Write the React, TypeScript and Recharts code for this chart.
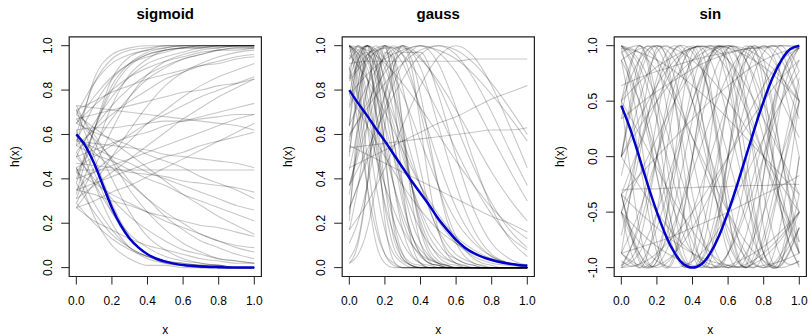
import { LineChart, Line, XAxis, YAxis, ReferenceArea } from 'recharts';

const xGrid = [0, 0.1, 0.2, 0.3, 0.4, 0.5, 0.6, 0.7, 0.8, 0.9, 1];
const fineGrid = [0, 0.05, 0.1, 0.15, 0.2, 0.25, 0.3, 0.35, 0.4, 0.45, 0.5, 0.55, 0.6, 0.65, 0.7, 0.75, 0.8, 0.85, 0.9, 0.95, 1];
const xTicks = [0, 0.2, 0.4, 0.6, 0.8, 1];
const unitTicks = [0, 0.2, 0.4, 0.6, 0.8, 1];
const sinTicks = [-1, -0.5, 0, 0.5, 1];

// highlighted (blue) curves, on fineGrid
const sigmoidBlue = [0.6, 0.55, 0.47, 0.37, 0.27, 0.19, 0.13, 0.09, 0.06, 0.04, 0.027, 0.018, 0.012, 0.008, 0.005, 0.003, 0.002, 0.001, 0.001, 0, 0];
const gaussBlue = [0.8, 0.74, 0.685, 0.625, 0.57, 0.51, 0.45, 0.39, 0.335, 0.28, 0.22, 0.17, 0.125, 0.09, 0.065, 0.047, 0.034, 0.024, 0.017, 0.012, 0.008];
const sinBlue = [0.46, 0.25, 0, -0.26, -0.5, -0.71, -0.87, -0.97, -1, -0.97, -0.87, -0.71, -0.5, -0.26, 0, 0.26, 0.5, 0.71, 0.87, 0.97, 1];

const sigmoidCurves = [
	[0.6, 0.83, 0.94, 0.98, 0.99, 1, 1, 1, 1, 1, 1],
	[0.38, 0.62, 0.82, 0.92, 0.97, 0.99, 1, 1, 1, 1, 1],
	[0.69, 0.83, 0.92, 0.96, 0.98, 0.99, 1, 1, 1, 1, 1],
	[0.29, 0.45, 0.62, 0.77, 0.87, 0.93, 0.96, 0.98, 0.99, 1, 1],
	[0.5, 0.65, 0.77, 0.86, 0.92, 0.95, 0.97, 0.99, 0.99, 1, 1],
	[0.43, 0.55, 0.67, 0.77, 0.85, 0.9, 0.94, 0.96, 0.98, 0.99, 0.99],
	[0.65, 0.73, 0.8, 0.86, 0.9, 0.93, 0.95, 0.97, 0.98, 0.99, 0.99],
	[0.27, 0.38, 0.5, 0.62, 0.73, 0.82, 0.88, 0.92, 0.95, 0.97, 0.98],
	[0.55, 0.62, 0.69, 0.75, 0.8, 0.85, 0.88, 0.91, 0.93, 0.95, 0.96],
	[0.35, 0.43, 0.5, 0.57, 0.65, 0.71, 0.77, 0.82, 0.86, 0.89, 0.92],
	[0.71, 0.75, 0.79, 0.82, 0.85, 0.87, 0.89, 0.91, 0.92, 0.94, 0.95],
	[0.45, 0.5, 0.55, 0.6, 0.65, 0.69, 0.73, 0.77, 0.8, 0.83, 0.86],
	[0.67, 0.69, 0.71, 0.73, 0.75, 0.77, 0.79, 0.8, 0.82, 0.83, 0.85],
	[0.27, 0.3, 0.34, 0.37, 0.41, 0.45, 0.49, 0.53, 0.57, 0.61, 0.65],
	[0.31, 0.37, 0.43, 0.49, 0.55, 0.61, 0.67, 0.72, 0.77, 0.81, 0.85],
	[0.62, 0.63, 0.63, 0.64, 0.65, 0.66, 0.66, 0.67, 0.68, 0.69, 0.69],
	[0.44, 0.44, 0.44, 0.44, 0.44, 0.44, 0.44, 0.44, 0.44, 0.44, 0.44],
	[0.73, 0.72, 0.71, 0.7, 0.69, 0.68, 0.67, 0.66, 0.65, 0.64, 0.62],
	[0.4, 0.62, 0.8, 0.91, 0.96, 0.98, 0.99, 1, 1, 1, 1],
	[0.57, 0.73, 0.85, 0.92, 0.96, 0.98, 0.99, 0.99, 1, 1, 1],
	[0.62, 0.43, 0.25, 0.13, 0.06, 0.03, 0.01, 0.01, 0, 0, 0],
	[0.38, 0.25, 0.15, 0.09, 0.05, 0.03, 0.02, 0.01, 0.01, 0, 0],
	[0.73, 0.57, 0.4, 0.25, 0.14, 0.08, 0.04, 0.02, 0.01, 0, 0],
	[0.5, 0.4, 0.31, 0.23, 0.17, 0.12, 0.08, 0.06, 0.04, 0.03, 0.02],
	[0.29, 0.2, 0.13, 0.08, 0.05, 0.03, 0.02, 0.01, 0.01, 0, 0],
	[0.6, 0.52, 0.45, 0.38, 0.31, 0.25, 0.2, 0.15, 0.12, 0.09, 0.07],
	[0.43, 0.38, 0.33, 0.29, 0.25, 0.21, 0.18, 0.15, 0.12, 0.1, 0.09],
	[0.69, 0.63, 0.57, 0.51, 0.45, 0.39, 0.33, 0.28, 0.23, 0.19, 0.15],
	[0.35, 0.33, 0.3, 0.28, 0.25, 0.23, 0.21, 0.19, 0.18, 0.16, 0.14],
	[0.55, 0.51, 0.48, 0.44, 0.4, 0.37, 0.33, 0.3, 0.27, 0.24, 0.21],
	[0.65, 0.61, 0.58, 0.55, 0.51, 0.48, 0.45, 0.41, 0.38, 0.35, 0.31],
	[0.45, 0.23, 0.1, 0.04, 0.01, 0.01, 0, 0, 0, 0, 0],
	[0.71, 0.6, 0.48, 0.35, 0.25, 0.17, 0.11, 0.07, 0.04, 0.03, 0.02],
	[0.27, 0.21, 0.17, 0.13, 0.1, 0.08, 0.06, 0.04, 0.03, 0.02, 0.02],
	[0.52, 0.38, 0.25, 0.15, 0.09, 0.05, 0.03, 0.02, 0.01, 0, 0],
	[0.67, 0.58, 0.49, 0.39, 0.31, 0.23, 0.17, 0.12, 0.09, 0.06, 0.04],
	[0.33, 0.62, 0.85, 0.95, 0.98, 1, 1, 1, 1, 1, 1],
	[0.52, 0.63, 0.73, 0.81, 0.87, 0.91, 0.94, 0.96, 0.98, 0.98, 0.99],
	[0.4, 0.43, 0.46, 0.49, 0.52, 0.55, 0.58, 0.61, 0.64, 0.67, 0.69],
	[0.57, 0.56, 0.55, 0.54, 0.53, 0.51, 0.5, 0.49, 0.48, 0.47, 0.45],
	[0.47, 0.46, 0.45, 0.43, 0.42, 0.41, 0.39, 0.38, 0.37, 0.36, 0.34],
	[0.58, 0.54, 0.5, 0.47, 0.43, 0.4, 0.37, 0.34, 0.31, 0.28, 0.26],
	[0.35, 0.38, 0.41, 0.44, 0.47, 0.5, 0.52, 0.55, 0.57, 0.59, 0.61],
	[0.5, 0.53, 0.56, 0.59, 0.61, 0.64, 0.66, 0.68, 0.7, 0.72, 0.74],
	[0.55, 0.85, 0.96, 0.99, 1, 1, 1, 1, 1, 1, 1],
	[0.31, 0.52, 0.73, 0.87, 0.94, 0.98, 0.99, 1, 1, 1, 1],
	[0.65, 0.77, 0.86, 0.92, 0.95, 0.97, 0.99, 0.99, 1, 1, 1],
	[0.6, 0.38, 0.2, 0.09, 0.04, 0.02, 0.01, 0, 0, 0, 0],
	[0.45, 0.29, 0.17, 0.09, 0.05, 0.02, 0.01, 0.01, 0, 0, 0],
	[0.71, 0.5, 0.29, 0.14, 0.06, 0.03, 0.01, 0, 0, 0, 0],
];

// narrow bumps are read on fineGrid (21 values), wide ones on xGrid (11 values)
const gaussCurves = [
	[1, 0.9, 0.64, 0.37, 0.17, 0.06, 0.02, 0, 0, 0, 0, 0, 0, 0, 0, 0, 0, 0, 0, 0, 0],
	[1, 0.94, 0.78, 0.57, 0.37, 0.21, 0.11, 0.05, 0.02, 0.01, 0, 0, 0, 0, 0, 0, 0, 0, 0, 0, 0],
	[1, 0.78, 0.37, 0.11, 0.02, 0, 0, 0, 0, 0, 0, 0, 0, 0, 0, 0, 0, 0, 0, 0, 0],
	[1, 0.96, 0.85, 0.7, 0.53, 0.37, 0.24, 0.14, 0.08, 0.04, 0.02, 0.01, 0, 0, 0, 0, 0, 0, 0, 0, 0],
	[0.5, 0.84, 1, 0.84, 0.5, 0.21, 0.06, 0.01, 0, 0, 0, 0, 0, 0, 0, 0, 0, 0, 0, 0, 0],
	[0.73, 0.93, 1, 0.93, 0.73, 0.5, 0.29, 0.15, 0.06, 0.02, 0.01, 0, 0, 0, 0, 0, 0, 0, 0, 0, 0],
	[0.85, 0.96, 1, 0.96, 0.85, 0.7, 0.53, 0.37, 0.24, 0.14, 0.08, 0.04, 0.02, 0.01, 0, 0, 0, 0, 0, 0, 0],
	[0.17, 0.37, 0.64, 0.9, 1, 0.9, 0.64, 0.37, 0.17, 0.06, 0.02, 0, 0, 0, 0, 0, 0, 0, 0, 0, 0],
	[0.44, 0.63, 0.81, 0.95, 1, 0.95, 0.81, 0.63, 0.44, 0.27, 0.16, 0.08, 0.04, 0.02, 0.01, 0, 0, 0, 0, 0, 0],
	[0.11, 0.21, 0.37, 0.57, 0.78, 0.94, 1, 0.94, 0.78, 0.57, 0.37, 0.21, 0.11, 0.05, 0.02, 0.01, 0, 0, 0, 0, 0],
	[0.37, 0.64, 0.9, 1, 0.9, 0.64, 0.37, 0.17, 0.06, 0.02, 0],
	[0.27, 0.48, 0.72, 0.92, 1, 0.92, 0.72, 0.48, 0.27, 0.13, 0.05],
	[0.37, 0.53, 0.7, 0.85, 0.96, 1, 0.96, 0.85, 0.7, 0.53, 0.37],
	[0.59, 0.74, 0.88, 0.97, 1, 0.97, 0.88, 0.74, 0.59, 0.44, 0.3],
	[0.84, 0.94, 0.99, 0.99, 0.94, 0.84, 0.71, 0.57, 0.43, 0.31, 0.21],
	[0.6, 0.72, 0.83, 0.92, 0.98, 1, 0.98, 0.92, 0.83, 0.72, 0.6],
	[0.92, 0.93, 0.93, 0.93, 0.93, 0.93, 0.93, 0.94, 0.94, 0.94, 0.94],
	[0.45, 0.49, 0.53, 0.57, 0.61, 0.65, 0.68, 0.72, 0.76, 0.79, 0.82],
	[0.54, 0.55, 0.56, 0.57, 0.58, 0.59, 0.6, 0.61, 0.62, 0.62, 0.63],
	[0.17, 0.29, 0.45, 0.64, 0.82, 0.95, 1, 0.95, 0.82, 0.64, 0.45],
	[1, 0.9, 0.64, 0.37, 0.17, 0.06, 0.02, 0, 0, 0, 0],
	[0.9, 0.64, 0.37, 0.17, 0.06, 0.02, 0, 0, 0, 0, 0],
	[0.96, 0.85, 0.7, 0.53, 0.37, 0.24, 0.14, 0.08, 0.04, 0.02, 0.01],
	[0.94, 1, 0.94, 0.78, 0.57, 0.37, 0.21, 0.11, 0.05, 0.02, 0.01],
	[0.72, 0.92, 1, 0.92, 0.72, 0.48, 0.27, 0.13, 0.05, 0.02, 0.01],
	[0.64, 0.82, 0.95, 1, 0.95, 0.82, 0.64, 0.45, 0.29, 0.17, 0.09],
	[0.64, 0.9, 1, 0.9, 0.64, 0.37, 0.17, 0.06, 0.02, 0, 0, 0, 0, 0, 0, 0, 0, 0, 0, 0, 0],
	[1, 0.84, 0.5, 0.21, 0.06, 0.01, 0, 0, 0, 0, 0, 0, 0, 0, 0, 0, 0, 0, 0, 0, 0],
	[0.02, 0.11, 0.37, 0.78, 1, 0.78, 0.37, 0.11, 0.02, 0, 0, 0, 0, 0, 0, 0, 0, 0, 0, 0, 0],
	[0.21, 0.68, 1, 0.68, 0.21, 0.03, 0, 0, 0, 0, 0, 0, 0, 0, 0, 0, 0, 0, 0, 0, 0],
	[1, 0.93, 0.73, 0.5, 0.29, 0.15, 0.06, 0.02, 0.01, 0, 0, 0, 0, 0, 0, 0, 0, 0, 0, 0, 0],
	[0.85, 0.96, 1, 0.96, 0.85, 0.7, 0.53, 0.37, 0.24, 0.14, 0.08],
	[0.78, 0.87, 0.94, 0.98, 1, 0.98, 0.94, 0.87, 0.78, 0.68, 0.57],
	[0.9, 1, 0.9, 0.64, 0.37, 0.17, 0.06, 0.02, 0, 0, 0],
	[1, 0.98, 0.92, 0.83, 0.72, 0.6, 0.48, 0.37, 0.27, 0.19, 0.13],
	[0.78, 0.64, 0.5, 0.37, 0.26, 0.17, 0.11, 0.06, 0.04, 0.02, 0.01],
	[0.55, 0.51, 0.47, 0.43, 0.39, 0.35, 0.31, 0.27, 0.23, 0.2, 0.16],
	[0.02, 0.06, 0.17, 0.37, 0.64, 0.9, 1, 0.9, 0.64, 0.37, 0.17, 0.06, 0.02, 0, 0, 0, 0, 0, 0, 0, 0],
	[0.78, 0.94, 1, 0.94, 0.78, 0.57, 0.37, 0.21, 0.11, 0.05, 0.02, 0.01, 0, 0, 0, 0, 0, 0, 0, 0, 0],
	[1, 0.94, 0.78, 0.57, 0.37, 0.21, 0.11, 0.05, 0.02, 0.01, 0],
	[0.86, 1, 0.86, 0.55, 0.27, 0.09, 0.03, 0.01, 0, 0, 0, 0, 0, 0, 0, 0, 0, 0, 0, 0, 0],
	[0.64, 0.94, 0.97, 0.71, 0.37, 0.13, 0.04, 0.01, 0, 0, 0, 0, 0, 0, 0, 0, 0, 0, 0, 0, 0],
	[0.52, 0.78, 0.96, 0.98, 0.82, 0.57, 0.32, 0.15, 0.06, 0.02, 0.01, 0, 0, 0, 0, 0, 0, 0, 0, 0, 0],
	[0.33, 0.56, 0.8, 0.97, 0.99, 0.84, 0.6, 0.37, 0.19, 0.08, 0.03, 0.01, 0, 0, 0, 0, 0, 0, 0, 0, 0],
	[0.94, 1, 0.94, 0.78, 0.57, 0.37, 0.21, 0.11, 0.05, 0.02, 0.01, 0, 0, 0, 0, 0, 0, 0, 0, 0, 0],
	[0.57, 0.78, 0.94, 1, 0.94, 0.78, 0.57, 0.37, 0.21, 0.11, 0.05, 0.02, 0.01, 0, 0, 0, 0, 0, 0, 0, 0],
	[0.37, 0.53, 0.7, 0.85, 0.96, 1, 0.96, 0.85, 0.7, 0.53, 0.37, 0.24, 0.14, 0.08, 0.04, 0.02, 0.01, 0, 0, 0, 0],
	[0.9, 0.64, 0.37, 0.17, 0.06, 0.02, 0, 0, 0, 0, 0, 0, 0, 0, 0, 0, 0, 0, 0, 0, 0],
	[0.97, 1, 0.97, 0.9, 0.78, 0.64, 0.5, 0.37, 0.26, 0.17, 0.11, 0.06, 0.04, 0.02, 0.01, 0, 0, 0, 0, 0, 0],
	[0.24, 0.61, 0.96, 0.91, 0.53, 0.18, 0.04, 0.01, 0, 0, 0, 0, 0, 0, 0, 0, 0, 0, 0, 0, 0],
	[0.04, 0.13, 0.37, 0.71, 0.97, 0.94, 0.64, 0.31, 0.11, 0.03, 0, 0, 0, 0, 0, 0, 0, 0, 0, 0, 0],
	[0.26, 0.5, 0.78, 0.97, 0.97, 0.78, 0.5, 0.26, 0.11, 0.04, 0.01],
];

const sinCurves = [
	[0, 0.87, 0.87, 0, -0.87, -0.87, 0, 0.87, 0.87, 0, -0.87],
	[0.5, 1, 0.5, -0.5, -1, -0.5, 0.5, 1, 0.5, -0.5, -1],
	[1, 0.71, 0, -0.71, -1, -0.71, 0, 0.71, 1, 0.71, 0],
	[-0.71, 0, 0.71, 1, 0.71, 0, -0.71, -1, -0.71, 0, 0.71],
	[0.87, 0.5, 0, -0.5, -0.87, -1, -0.87, -0.5, 0, 0.5, 0.87],
	[-0.87, -0.5, 0, 0.5, 0.87, 1, 0.87, 0.5, 0, -0.5, -0.87],
	[0.5, 0.87, 1, 0.87, 0.5, 0, -0.5, -0.87, -1, -0.87, -0.5],
	[-1, -0.97, -0.87, -0.71, -0.5, -0.26, 0, 0.26, 0.5, 0.71, 0.87],
	[0.87, 0.97, 1, 0.97, 0.87, 0.71, 0.5, 0.26, 0, -0.26, -0.5],
	[0, -0.26, -0.5, -0.71, -0.87, -0.97, -1, -0.97, -0.87, -0.71, -0.5],
	[-0.34, -0.17, 0, 0.17, 0.34, 0.5, 0.64, 0.77, 0.87, 0.94, 0.98],
	[0.98, 0.94, 0.87, 0.77, 0.64, 0.5, 0.34, 0.17, 0, -0.17, -0.34],
	[-0.3, -0.29, -0.29, -0.28, -0.28, -0.27, -0.27, -0.26, -0.26, -0.25, -0.25],
	[-0.87, -0.82, -0.77, -0.71, -0.64, -0.57, -0.5, -0.42, -0.34, -0.26, -0.17],
	[0.64, 0.71, 0.77, 0.82, 0.87, 0.91, 0.94, 0.97, 0.98, 1, 1],
	[0, 0.77, 0.98, 0.5, -0.34, -0.94, -0.87, -0.17, 0.64, 1, 0.64],
	[-0.34, -0.94, -0.87, -0.17, 0.64, 1, 0.64, -0.17, -0.87, -0.94, -0.34],
	[-0.98, -0.64, 0, 0.64, 0.98, 0.87, 0.34, -0.34, -0.87, -0.98, -0.64],
	[0.94, 0.5, -0.17, -0.77, -1, -0.77, -0.17, 0.5, 0.94, 0.94, 0.5],
	[0, 0.34, 0.64, 0.87, 0.98, 0.98, 0.87, 0.64, 0.34, 0, -0.34],
	[-0.87, -0.98, -0.98, -0.87, -0.64, -0.34, 0, 0.34, 0.64, 0.87, 0.98],
	[-0.5, -0.77, -0.94, -1, -0.94, -0.77, -0.5, -0.17, 0.17, 0.5, 0.77],
	[0.34, 1, 0.34, -0.77, -0.87, 0.17, 0.98, 0.5, -0.64, -0.94, 0],
	[0.5, -0.64, -0.94, 0, 0.94, 0.64, -0.5, -0.98, -0.17, 0.87, 0.77],
	[-0.5, -1, -0.5, 0.5, 1, 0.5, -0.5, -1, -0.5, 0.5, 1],
	[-0.34, -0.91, -0.94, -0.42, 0.34, 0.91, 0.94, 0.42, -0.34, -0.91, -0.94],
	[-0.5, -0.87, -1, -0.87, -0.5, 0, 0.5, 0.87, 1, 0.87, 0.5],
	[0.94, 1, 0.87, 0.57, 0.17, -0.26, -0.64, -0.91, -1, -0.91, -0.64],
	[-0.34, 0.09, 0.5, 0.82, 0.98, 0.97, 0.77, 0.42, 0, -0.42, -0.77],
	[1, 0.82, 0.34, -0.26, -0.77, -1, -0.87, -0.42, 0.17, 0.71, 0.98],
	[-0.5, 0.09, 0.64, 0.97, 0.94, 0.57, 0, -0.57, -0.94, -0.97, -0.64],
	[0.5, 0.67, 0.81, 0.91, 0.98, 1, 0.98, 0.91, 0.81, 0.67, 0.5],
	[-0.5, -0.67, -0.81, -0.91, -0.98, -1, -0.98, -0.91, -0.81, -0.67, -0.5],
	[0.34, 0.47, 0.59, 0.69, 0.79, 0.87, 0.93, 0.97, 0.99, 1, 0.98],
	[-1, -0.57, 0.34, 0.97, 0.77, -0.09, -0.87, -0.91, -0.17, 0.71, 0.98],
	[0.5, 0.21, -0.1, -0.41, -0.67, -0.87, -0.98, -0.99, -0.91, -0.74, -0.5],
	[0.98, 0.26, -0.77, -0.91, 0, 0.91, 0.77, -0.26, -0.98, -0.57, 0.5],
	[-0.17, 0.5, 0.94, 0.94, 0.5, -0.17, -0.77, -1, -0.77, -0.17, 0.5],
	[-0.98, -0.77, 0, 0.77, 0.98, 0.5, -0.34, -0.94, -0.87, -0.17, 0.64],
	[-0.87, -1, -0.9, -0.59, -0.14, 0.34, 0.74, 0.97, 0.96, 0.74, 0.34],
	[0.87, 0, -0.87, -0.87, 0, 0.87, 0.87, 0, -0.87, -0.87, 0],
	[0, 0.71, 1, 0.71, 0, -0.71, -1, -0.71, 0, 0.71, 1],
	[1, 0.87, 0.5, 0, -0.5, -0.87, -1, -0.87, -0.5, 0, 0.5],
	[-1, -0.87, -0.5, 0, 0.5, 0.87, 1, 0.87, 0.5, 0, -0.5],
	[1, 0.94, 0.77, 0.5, 0.17, -0.17, -0.5, -0.77, -0.94, -1, -0.94],
	[-0.5, -0.17, 0.17, 0.5, 0.77, 0.94, 1, 0.94, 0.77, 0.5, 0.17],
	[1, 0.64, -0.17, -0.87, -0.94, -0.34, 0.5, 0.98, 0.77, 0, -0.77],
	[-0.34, -0.87, -0.98, -0.64, 0, 0.64, 0.98, 0.87, 0.34, -0.34, -0.87],
	[0, 0.26, 0.5, 0.71, 0.87, 0.97, 1, 0.97, 0.87, 0.71, 0.5],
	[-0.34, -0.5, -0.64, -0.77, -0.87, -0.94, -0.98, -1, -0.98, -0.94, -0.87],
	[-0.87, 0.17, 0.98, 0.5, -0.64, -0.94, 0, 0.94, 0.64, -0.5, -0.98],
	[-0.94, -0.97, -0.64, -0.09, 0.5, 0.91, 0.98, 0.71, 0.17, -0.42, -0.87],
];

const FONT = '"Liberation Sans", Arial, Helvetica, sans-serif';
const PANEL_W = 273;
const H = 336;
const PLOT_LEFT = 69.2;
const PLOT_W = 192.2;
const PLOT_TOP = 36.8;
const PLOT_BOTTOM = 276.5;

const toSeries = (values: number[]) => {
	const xs = values.length > xGrid.length ? fineGrid : xGrid;
	return xs.map((x, i) => ({ x, v: values[i] }));
};

const XTick = ({ x, y, payload }: any) => (
	<text x={x} y={y} dy={8.5} textAnchor='middle' fontSize={12} fontFamily={FONT} fill='#000'>
		{Number(payload.value).toFixed(1)}
	</text>
);

const YTick = ({ x, y, payload }: any) => (
	<text x={x} y={y} transform={`rotate(-90 ${x} ${y})`} textAnchor='middle' fontSize={12} fontFamily={FONT} fill='#000'>
		{Number(payload.value).toFixed(1)}
	</text>
);

type PanelProps = {
	left: number;
	title: string;
	curves: number[][];
	blue: number[];
	domain: [number, number];
	yTicks: number[];
	curve: 'monotone' | 'natural';
};

const Panel = ({ left, title, curves, blue, domain, yTicks, curve }: PanelProps) => {
	const cx = PLOT_LEFT + PLOT_W / 2;
	const cy = (PLOT_TOP + PLOT_BOTTOM) / 2;
	return (
		<div style={{ position: 'absolute', left, top: 0, width: PANEL_W, height: H }}>
			<LineChart
				width={PANEL_W}
				height={H}
				margin={{ top: PLOT_TOP, right: PANEL_W - PLOT_LEFT - PLOT_W, bottom: 0, left: 0 }}
			>
				<XAxis
					dataKey='x'
					type='number'
					domain={[-0.04, 1.04]}
					ticks={xTicks}
					interval={0}
					allowDataOverflow
					height={H - PLOT_BOTTOM}
					axisLine={false}
					tickSize={8}
					tickMargin={12}
					tickLine={{ stroke: '#222' }}
					tick={<XTick />}
				/>
				<YAxis
					type='number'
					domain={domain}
					ticks={yTicks}
					interval={0}
					allowDataOverflow
					width={PLOT_LEFT}
					axisLine={false}
					tickSize={8}
					tickMargin={9}
					tickLine={{ stroke: '#222' }}
					tick={<YTick />}
				/>
				{curves.map((c, j) => (
					<Line
						key={j}
						data={toSeries(c)}
						dataKey='v'
						type={curve}
						stroke='#000'
						strokeOpacity={0.22}
						strokeWidth={1.1}
						dot={false}
						activeDot={false}
						isAnimationActive={false}
					/>
				))}
				<Line
					data={toSeries(blue)}
					dataKey='v'
					type={curve}
					stroke='#0000cd'
					strokeWidth={2.5}
					dot={false}
					activeDot={false}
					isAnimationActive={false}
				/>
				<ReferenceArea
					x1={-0.04}
					x2={1.04}
					y1={domain[0]}
					y2={domain[1]}
					fill='none'
					stroke='#222'
					strokeWidth={1.2}
				/>
			</LineChart>
			<svg
				width={PANEL_W}
				height={H}
				style={{ position: 'absolute', left: 0, top: 0, pointerEvents: 'none' }}
			>
				<text x={cx} y={19} textAnchor='middle' fontSize={15} fontWeight='bold' fontFamily={FONT} fill='#000'>
					{title}
				</text>
				<text x={cx} y={334} textAnchor='middle' fontSize={12} fontFamily={FONT} fill='#000'>
					x
				</text>
				<text
					x={19.5}
					y={cy}
					transform={`rotate(-90 19.5 ${cy})`}
					textAnchor='middle'
					fontSize={12}
					fontFamily={FONT}
					fill='#000'
				>
					h(x)
				</text>
			</svg>
		</div>
	);
};

const App = () => {
	return (
		<div
			style={{
				position: 'absolute',
				left: 0,
				top: 0,
				width: 809,
				height: 336,
				overflow: 'hidden',
				background: '#fff',
			}}
		>
			<Panel left={0} title='sigmoid' curves={sigmoidCurves} blue={sigmoidBlue} domain={[-0.04, 1.04]} yTicks={unitTicks} curve='monotone' />
			<Panel left={272.7} title='gauss' curves={gaussCurves} blue={gaussBlue} domain={[-0.04, 1.04]} yTicks={unitTicks} curve='monotone' />
			<Panel left={545.4} title='sin' curves={sinCurves} blue={sinBlue} domain={[-1.08, 1.08]} yTicks={sinTicks} curve='natural' />
		</div>
	);
};

export default App;
